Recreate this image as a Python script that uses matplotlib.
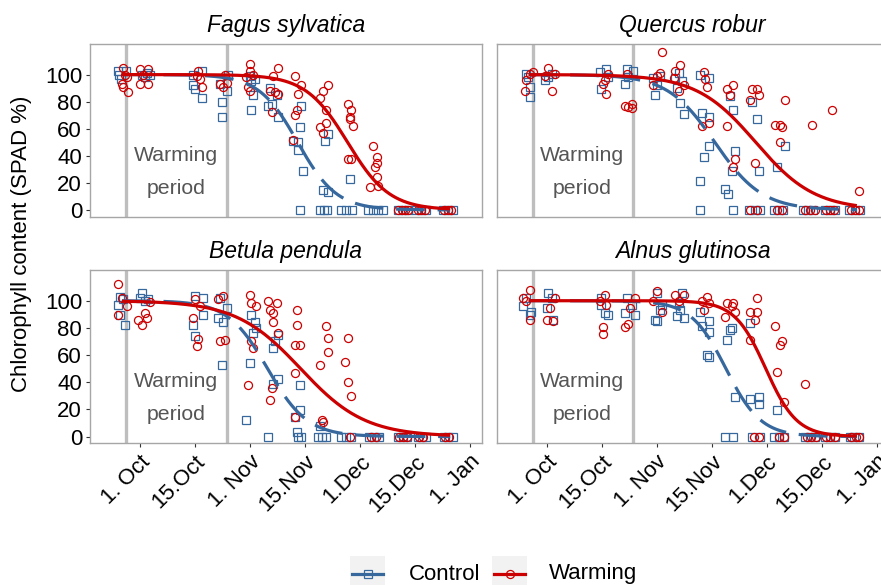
import numpy as np
import matplotlib
matplotlib.use('Agg')
import matplotlib.pyplot as plt
from matplotlib.patches import Rectangle

plt.rcParams['font.family'] = ['Liberation Sans', 'DejaVu Sans']

# ---------------- data (days since 1 Oct, SPAD %) ----------------
species = ['Fagus sylvatica', 'Quercus robur', 'Betula pendula', 'Alnus glutinosa']

tick_days = [0, 15.33, 30.67, 46, 61.33, 76.67, 92]
tick_labels = ['1. Oct', '15.Oct', '1. Nov', '15.Nov', '1.Dec', '15.Dec', '1. Jan']
warming_start, warming_end = -3.9, 24.2
curve_start, curve_end = -5.0, 86.5

# Fagus sylvatica
fs_ctrl_x = [-6.0, -5.8, -5.3, -3.9, 0.5, 2.8, 1.4, 1.9, 14.9, 15.3, 17.2, 17.2, 14.9,
             22.8, 22.8, 24.2, 22.3, 24.6, 30.7, 31.1, 31.6, 31.1, 32.1,
             36.2, 36.7, 38.6, 38.1, 35.8, 42.7, 44.1, 44.6, 44.1, 45.5, 45.0, 44.6,
             51.6, 52.5, 51.1, 52.5, 50.2, 51.2, 52.2, 58.6, 56.2, 57.6, 59.2,
             63.7, 65.1, 66.4, 67.8, 72.0, 73.4, 74.8, 77.1, 78.5, 79.9, 84.6, 86.0, 87.4]
fs_ctrl_y = [103, 100, 97, 103, 100, 100, 98, 101, 92, 89, 83, 103, 100,
             79.6, 69, 88, 93, 100, 99, 95, 85, 74, 97,
             90, 78, 69, 85, 77, 51, 50, 61, 44, 29, 77, 0,
             51, 56, 15, 13, 0, 0, 0, 23, 0, 0, 0,
             0, 0, 0, 0, 0, 0, 0, 0, 0, 0, 0, 0, 0]
fs_warm_x = [-4.6, -5.1, -4.6, -3.3, -3.7, -4.2, 0.0, 2.3, 0.0, 2.3, 0.9,
             16.3, 16.7, 15.8, 17.2, 22.3, 23.7, 24.2, 23.2,
             30.7, 30.7, 30.2, 30.7, 31.6, 29.7, 38.6, 37.2, 36.2, 37.6, 36.7, 38.6,
             43.2, 45.0, 44.1, 43.7, 43.2, 42.7, 52.5, 51.1, 50.2, 52.0, 52.0, 50.2, 51.1,
             58.1, 59.0, 58.6, 58.6, 59.5, 58.1, 59.0, 65.0, 66.0, 66.0, 65.5, 66.0, 64.1, 66.4,
             72.0, 73.0, 73.9, 74.8, 77.5, 78.5, 79.5, 84.8, 85.8, 86.8]
fs_warm_y = [105, 93, 90.7, 87, 98, 100, 104, 104, 93, 93, 100,
             103, 97, 99, 90.6, 93, 100, 94, 90.6,
             108, 103, 91, 88, 100, 98, 105, 99, 88, 87, 72, 86,
             99, 92.6, 86, 74, 70, 52, 92.6, 88, 83, 74, 64, 61, 57,
             78, 74, 69, 67, 62, 37.5, 38, 47, 39, 35, 32, 24, 17, 18,
             0, 0, 0, 0, 0, 0, 0, 0, 0, 0]

# Quercus robur
qr_ctrl_x = [-5.6, -4.7, -4.7, -5.1, -0.5, 1.4, 0.5, 15.3, 16.7, 14.8, 17.2,
             22.3, 24.2, 21.8, 22.8, 29.8, 30.3, 30.7, 31.7,
             36.3, 37.3, 38.2, 35.9, 36.8, 37.7, 42.8, 45.2, 43.3, 45.2, 45.2, 43.8, 42.8, 42.8,
             51.2, 52.1, 52.6, 51.7, 49.8, 50.7, 52.1, 57.2, 58.6, 59.1, 56.3, 58.2, 59.6,
             66.5, 64.2, 63.3, 64.7, 65.8, 71.6, 73.0, 74.4, 77.7, 79.1, 80.5, 84.2, 86.0, 87.5]
qr_ctrl_y = [100.5, 90.7, 83.3, 98, 96, 100.5, 98, 89, 104, 102, 98,
             104, 103, 93, 98, 97.6, 85, 92.6, 99,
             90, 79, 71, 97.6, 101, 95, 100, 97.6, 71.8, 69, 47, 39, 21.6, 0,
             84, 74, 43.6, 29, 15.5, 12, 0, 80, 67.5, 29, 0, 0, 0,
             47, 32, 0, 0, 0, 0, 0, 0, 0, 0, 0, 0, 0, 0]
qr_warm_x = [-5.6, -6.1, -3.7, -4.7, 0.5, 1.4, -0.5, 2.3, 16.7, 16.3, 15.8, 17.2,
             21.8, 22.8, 23.7, 23.7, 22.3, 31.7, 29.8, 30.7, 32.1,
             37.3, 35.9, 36.8, 38.2, 35.4, 43.8, 44.7, 45.2, 43.3, 44.2,
             52.1, 50.3, 51.2, 50.3, 52.6, 52.1, 57.2, 58.6, 56.8, 59.1, 58.2, 56.8, 58.6,
             66.5, 63.7, 65.1, 65.6, 65.1, 64.2, 65.6, 74.0, 72.1, 73.5, 74.9,
             79.5, 77.8, 79.0, 80.2, 87.0, 84.8, 86.0, 87.0]
qr_warm_y = [96, 88, 102, 100.5, 105, 88, 99, 100.5, 86, 96, 93, 100.5,
             77, 76, 78, 75, 100.5, 101, 92.6, 99, 117,
             107, 103, 88, 92.6, 97.6, 102, 91, 64, 62, 97,
             92.6, 89, 85, 62, 37.5, 31.6, 89, 89, 81.5, 85, 35, 0, 0,
             81.5, 63, 63, 61, 50, 0, 0, 63, 0, 0, 0,
             73.5, 0, 0, 0, 14, 0, 0, 0]

# Betula pendula
bp_ctrl_x = [-6.0, -5.6, -4.2, -5.6, -4.6, 0.5, 0.0, 1.4, 2.3, 14.9, 15.3, 17.7, 15.3, 17.7,
             22.8, 21.8, 23.2, 24.2, 22.3, 31.1, 32.1, 31.6, 30.7, 29.7, 32.5,
             37.2, 37.6, 38.6, 37.2, 35.8, 38.6, 44.6, 44.6, 43.2, 43.7, 44.1, 45.0,
             50.2, 49.7, 50.8, 52.0, 56.2, 57.6, 59.0, 64.0, 65.3, 66.6,
             72.0, 73.3, 74.6, 77.5, 78.7, 79.9, 84.8, 86.0, 87.2]
bp_ctrl_y = [97, 89.6, 82, 103, 101, 106, 102, 99.5, 101, 82, 74, 102, 103.5, 89.6,
             52.6, 87, 84.6, 94.6, 102, 89.6, 84.6, 76, 54, 12, 80,
             65, 70, 42.7, 39, 0, 74.6, 38, 19.3, 14.4, 3.3, 0, 0,
             7.4, 0, 0, 0, 0, 0, 0, 0, 0, 0,
             0, 0, 0, 0, 0, 0, 0, 0, 0]
bp_warm_x = [-6.0, -6.0, -5.1, -3.7, -0.5, 0.5, 1.9, 1.4, 2.8, 15.8, 16.3, 14.9, 15.3, 16.7,
             22.3, 23.7, 21.8, 23.2, 30.7, 31.1, 32.5, 31.1, 31.6, 30.2,
             35.8, 38.1, 36.2, 37.2, 37.2, 38.6, 36.7, 36.2, 43.7, 43.7, 43.2, 44.6, 43.2, 43.2,
             52.0, 52.5, 52.5, 50.2, 51.1, 50.7, 58.1, 57.2, 58.1, 59.0, 58.6,
             64.5, 65.8, 72.2, 73.4, 74.6, 77.8, 79.0, 85.0, 86.2]
bp_warm_y = [112, 89.6, 102, 96, 86, 82, 87, 91, 99, 67, 72, 87, 101, 96,
             70, 71, 101, 103.5, 104, 98, 95.8, 70, 65, 38,
             99.5, 98, 93, 90.9, 84.6, 76, 35.4, 26.7, 93, 82, 67.4, 67.4, 46.4, 14.4,
             81, 72.4, 62.5, 52.6, 10.7, 12, 72.4, 55, 40, 30, 0,
             0, 0, 0, 0, 0, 0, 0, 0, 0]

# Alnus glutinosa
ag_ctrl_x = [-6.5, -4.7, -4.2, -5.6, 0.5, 0.0, 1.9, 1.4, 15.3, 16.3, 17.2, 15.3,
             22.3, 21.8, 24.6, 23.7, 30.7, 30.7, 31.7, 32.1, 30.3,
             36.3, 38.2, 37.7, 36.8, 37.3, 42.8, 45.2, 43.3, 45.2, 44.7, 45.2,
             51.2, 51.7, 50.3, 52.6, 49.8, 52.1, 56.8, 56.8, 59.1, 59.1, 57.2, 59.6,
             64.2, 63.3, 64.7, 66.1, 72.1, 73.5, 74.9, 77.7, 79.0, 80.3, 84.5, 85.8, 87.0]
ag_ctrl_y = [96, 89.6, 92, 102, 106, 94.6, 86, 102, 102, 91, 89.6, 96.5,
             102, 91, 89.6, 97, 105.7, 84.7, 93.3, 97, 86,
             88.4, 87, 105.7, 98.3, 93, 92, 84.7, 81, 77, 60, 58.8,
             78.5, 79.8, 71, 29, 0, 0, 83.5, 27.9, 29, 24, 0, 0,
             19.3, 0, 0, 0, 0, 0, 0, 0, 0, 0, 0, 0, 0]
ag_warm_x = [-4.7, -6.5, -4.7, -5.6, 0.0, 1.9, 0.9, 2.3, 15.8, 15.8, 16.3, 16.7, 14.8,
             21.8, 22.8, 24.6, 23.2, 30.7, 32.1, 29.8, 35.9, 38.2, 36.8,
             44.7, 43.3, 43.8, 45.2, 50.3, 52.1, 49.8, 52.6, 51.7,
             58.6, 56.8, 58.6, 58.2, 56.8, 57.7, 59.1, 63.7, 65.6, 65.1, 64.2, 66.1, 64.7, 66.1,
             72.1, 72.5, 73.8, 75.0, 77.8, 79.1, 80.3, 85.0, 86.2, 87.2]
ag_warm_y = [108, 102, 86, 99.5, 86, 85, 94.6, 102, 80.7, 75.8, 104, 97, 99.5,
             80.7, 83, 102, 94.6, 107, 92, 99.5, 104, 104, 99.5,
             103, 99.5, 93, 98.3, 98, 98, 88, 92, 95.8,
             102, 92, 92, 86, 71, 0, 0, 81, 70, 67.5, 47.6, 25.5, 0, 0,
             39, 0, 0, 0, 0, 0, 0, 0, 0, 0]

ctrl_x = [fs_ctrl_x, qr_ctrl_x, bp_ctrl_x, ag_ctrl_x]
ctrl_y = [fs_ctrl_y, qr_ctrl_y, bp_ctrl_y, ag_ctrl_y]
warm_x = [fs_warm_x, qr_warm_x, bp_warm_x, ag_warm_x]
warm_y = [fs_warm_y, qr_warm_y, bp_warm_y, ag_warm_y]

# fitted logistic curves (midpoint day, scale in days)
ctrl_mid = [44.0, 46.9, 35.6, 50.0]
ctrl_scale = [5.42, 6.6, 5.55, 4.87]
warm_mid = [57.9, 58.3, 44.8, 61.1]
warm_scale = [5.84, 8.25, 9.0, 4.33]

# ---------------- styling ----------------
BLUE = '#36689E'
RED = '#CC0000'
W, H = 881, 585
fig = plt.figure(figsize=(W / 100, H / 100), dpi=100)


def px_axes(l, t, w, h):
    return fig.add_axes([l / W, 1 - (t + h) / H, w / W, h / H])


panel_boxes = [(90, 44, 391.7, 172.7), (496.7, 44, 391.7, 172.7),
               (90, 270, 391.7, 173.3), (496.7, 270, 391.7, 173.3)]


def logistic(x, mid, scale):
    return 100.0 / (1.0 + np.exp((x - mid) / scale))


for i, (sp, box) in enumerate(zip(species, panel_boxes)):
    ax = px_axes(*box)
    ax.set_xlim(-13.9, 95.3)
    ax.set_ylim(-5.0, 122.6)
    for v in (warming_start, warming_end):
        ax.axvline(v, color='#BEBEBE', lw=2.4, zorder=1)
    ax.plot(ctrl_x[i], ctrl_y[i], ls='none', marker='s', mfc='none', mec=BLUE,
            ms=5.2, mew=0.9, zorder=3)
    ax.plot(warm_x[i], warm_y[i], ls='none', marker='o', mfc='none', mec=RED,
            ms=5.8, mew=0.9, zorder=3)
    xs = np.linspace(curve_start, curve_end, 400)
    ax.plot(xs, logistic(xs, ctrl_mid[i], ctrl_scale[i]), color=BLUE, lw=2.3,
            dashes=(9, 4), zorder=4)
    ax.plot(xs, logistic(xs, warm_mid[i], warm_scale[i]), color=RED, lw=2.3,
            zorder=5, solid_capstyle='butt')
    ax.text(10, 36.3, 'Warming', ha='center', va='baseline', fontsize=15.3,
            color='#555555', zorder=2)
    ax.text(10, 11.8, 'period', ha='center', va='baseline', fontsize=15.3,
            color='#555555', zorder=2)
    ax.text(0.5, 1 + 12.3 / box[3], sp, transform=ax.transAxes, ha='center',
            va='baseline', fontsize=16.5, style='italic')
    for s in ax.spines.values():
        s.set_color('#A6A6A6')
        s.set_linewidth(1.0)
    ax.set_yticks([0, 20, 40, 60, 80, 100])
    ax.set_xticks(tick_days)
    ax.tick_params(length=3.2, width=0.8, color='#333333', labelsize=16,
                   labelcolor='black', pad=2.5)
    if i % 2 == 1:
        ax.tick_params(left=False, labelleft=False)
    if i < 2:
        ax.tick_params(bottom=False, labelbottom=False)
    else:
        ax.set_xticklabels(tick_labels, rotation=45, ha='right', va='top',
                           rotation_mode='anchor')

fig.text(22 / W, 1 - 243.5 / H, 'Chlorophyll content (SPAD %)', rotation=90,
         ha='center', va='center', fontsize=16)

# legend
lax = fig.add_axes([0, 0, 1, 1])
lax.set_xlim(0, W)
lax.set_ylim(H, 0)
lax.axis('off')
lax.patch.set_alpha(0)
for (x0, col, mk, ms, lab, tx) in [(350, BLUE, 's', 5.2, 'Control', 409),
                                  (492, RED, 'o', 5.8, 'Warming', 549)]:
    lax.add_patch(Rectangle((x0, 556), 35, 35, facecolor='#F2F2F2', edgecolor='none'))
    lax.plot([x0 + 2, x0 + 33], [573.5, 573.5], color=col, lw=2.3)
    lax.plot([x0 + 17.5], [573.5], marker=mk, mfc='none', mec=col, ms=ms, mew=0.9)
    lax.text(tx, 574, lab, ha='left', va='center', fontsize=16)

fig.savefig('out.png', dpi=100)
